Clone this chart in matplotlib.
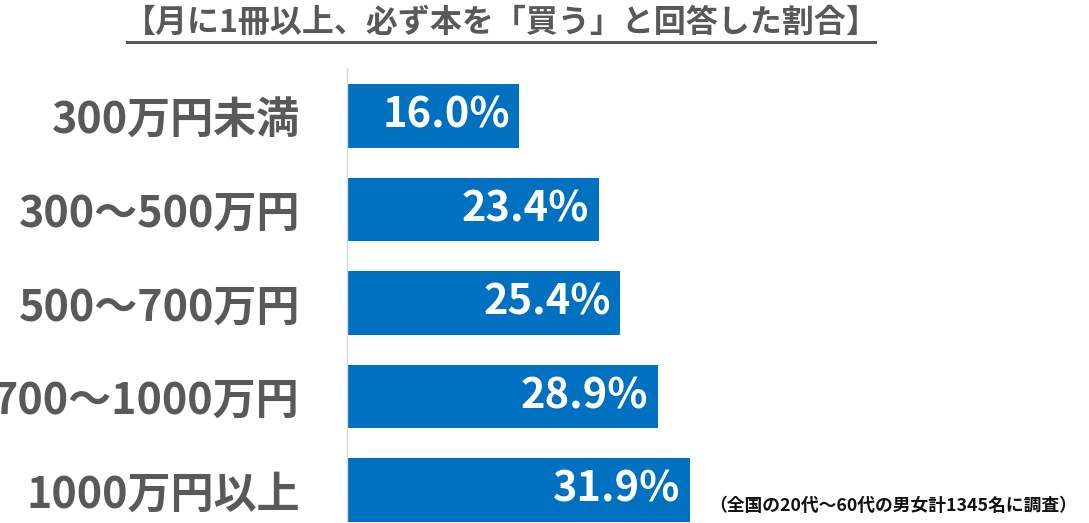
import matplotlib
matplotlib.use("Agg")
import matplotlib.pyplot as plt
from matplotlib.lines import Line2D

plt.rcParams['font.family'] = ['Noto Sans CJK JP', 'DejaVu Sans']

categories = ["300万円未満", "300～500万円", "500～700万円", "700～1000万円", "1000万円以上"]
values = [16.0, 23.4, 25.4, 28.9, 31.9]
value_labels = ["16.0%", "23.4%", "25.4%", "28.9%", "31.9%"]
title = "【月に1冊以上、必ず本を「買う」と回答した割合】"
note = "（全国の20代～60代の男女計1345名に調査）"

W, H = 1089, 523
fig = plt.figure(figsize=(W / 100, H / 100), dpi=100)
left = 347 / W
ax = fig.add_axes([left, 0, 1 - left, 1 - 68 / H])

bar_color = "#0070C0"
ypos = list(range(len(categories)))
ax.barh(ypos, values, height=0.68, color=bar_color, zorder=2)
ax.set_xlim(0, (W - 347) / 10.75)
ax.set_ylim(4.353, -0.513)

for y, v, lab in zip(ypos, values, value_labels):
    ax.text(v - 0.85, y, lab, ha="right", va="center", color="white",
            fontsize=30, fontweight="bold")

ax.set_yticks(ypos)
ax.set_yticklabels(categories, fontsize=31, fontweight="bold", color="#595959")
ax.tick_params(axis="y", length=0, pad=34)
ax.set_xticks([])
for s in ["top", "right", "bottom"]:
    ax.spines[s].set_visible(False)
ax.spines["left"].set_color("#D9D9D9")
ax.spines["left"].set_linewidth(1)

fig.text(501 / W, 1 - 23 / H, title, ha="center", va="center",
         fontsize=23, fontweight="bold", color="#595959")
fig.add_artist(Line2D([127 / W, 875 / W], [1 - 42 / H, 1 - 42 / H],
                      color="#595959", linewidth=2.2))
fig.text(1077 / W, 1 - 506 / H, note, ha="right", va="center",
         fontsize=12.8, fontweight="bold", color="#111111")

fig.savefig("out.png", dpi=100)
